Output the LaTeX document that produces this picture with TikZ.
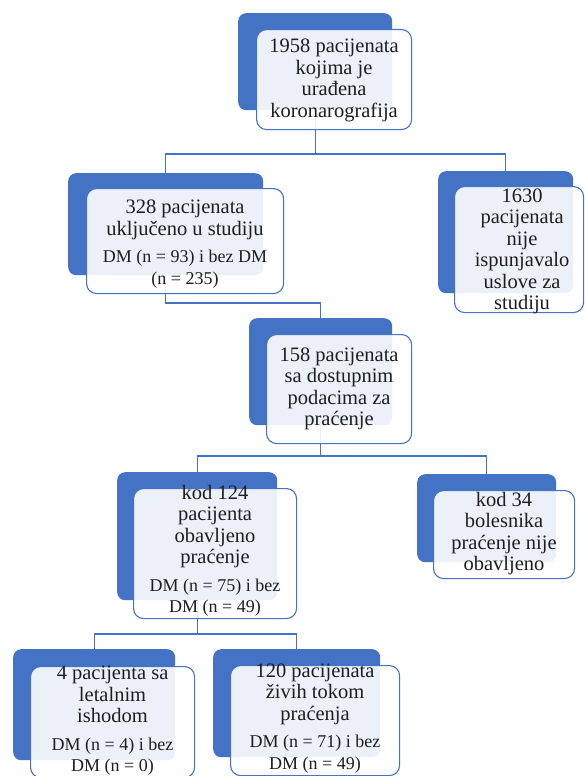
\documentclass[tikz,border=0pt]{standalone}
\usepackage{fontspec}
\setmainfont{Liberation Serif}
\definecolor{ofblue}{HTML}{4472C4}
\definecolor{txt}{HTML}{1E1E1E}
\newcommand\mainf{\fontsize{20.5}{21.5}\selectfont}
\newcommand\subf{\fontsize{18}{20}\selectfont}
\begin{document}
\begin{tikzpicture}[x=1pt,y=-1pt,
  darkbox/.style={draw=none,fill=ofblue,rounded corners=8pt,inner sep=0pt,anchor=north west},
  frontbox/.style={draw=ofblue,line width=1.1pt,fill=white,fill opacity=0.9,rounded corners=10pt,inner sep=0pt,anchor=north west},
  txtnode/.style={text=txt,align=center,font=\mainf,inner sep=0pt},
  conn/.style={draw=ofblue,line width=1.3pt}]
\useasboundingbox (0,0) rectangle (584,776);
% dark boxes
\node[darkbox,minimum width=154pt,minimum height=97pt] (d1) at (238,13) {};
\node[darkbox,minimum width=195pt,minimum height=102pt] (d2) at (68,173) {};
\node[darkbox,minimum width=135pt,minimum height=122pt] (d3) at (438,171) {};
\node[darkbox,minimum width=143pt,minimum height=107pt] (d4) at (249,318) {};
\node[darkbox,minimum width=160pt,minimum height=128pt] (d5) at (117,472) {};
\node[darkbox,minimum width=139pt,minimum height=88pt] (d6) at (417,474) {};
\node[darkbox,minimum width=162pt,minimum height=111pt] (d7) at (13,649) {};
\node[darkbox,minimum width=167pt,minimum height=108pt] (d8) at (213,649) {};
% connectors
\coordinate (j1) at (0,154);
\coordinate (j2) at (0,303);
\coordinate (j3) at (0,456);
\coordinate (j4) at (0,634);
\draw[conn] (d1.south) -- (d1.south |- j1) -| (d2.north);
\draw[conn] (d1.south |- j1) -| (d3.north);
\draw[conn] (d2.south) -- (d2.south |- j2) -| (d4.north);
\draw[conn] (d4.south) -- (d4.south |- j3) -| (d5.north);
\draw[conn] (d4.south |- j3) -| (d6.north);
\draw[conn] (d5.south) -- (d5.south |- j4) -| (d7.north);
\draw[conn] (d5.south |- j4) -| (d8.north);
% front boxes
\node[frontbox,minimum width=155pt,minimum height=100pt] (f1) at (256,29) {};
\node[frontbox,minimum width=197pt,minimum height=105pt] (f2) at (86,188) {};
\node[frontbox,minimum width=129pt,minimum height=126pt] (f3) at (454,186) {};
\node[frontbox,minimum width=145pt,minimum height=109pt] (f4) at (266,334) {};
\node[frontbox,minimum width=163pt,minimum height=130pt] (f5) at (133,488) {};
\node[frontbox,minimum width=141pt,minimum height=88pt] (f6) at (433,490) {};
\node[frontbox,minimum width=164pt,minimum height=111pt] (f7) at (30,666) {};
\node[frontbox,minimum width=169pt,minimum height=110pt] (f8) at (230,665) {};
% texts
\node[txtnode] (t1) at ([yshift=-1pt]f1.center) {1958 pacijenata\\kojima je\\urađena\\koronarografija};
\node[txtnode] (t2) at ([yshift=-3pt]f2.center) {328 pacijenata\\uključeno u studiju\\[6pt]\subf DM (n = 93) i bez DM\\\subf (n = 235)};
\node[txtnode] (t3) at ([xshift=3pt,yshift=-2pt]f3.center) {1630\\pacijenata\\nije\\ispunjavalo\\uslove za\\studiju};
\node[txtnode] (t4) at (f4.center) {158 pacijenata\\sa dostupnim\\podacima za\\praćenje};
\node[txtnode] (t5) at ([yshift=3pt]f5.center) {kod 124\\pacijenta\\obavljeno\\praćenje\\[6pt]\subf DM (n = 75) i bez\\\subf DM (n = 49)};
\node[txtnode] (t6) at ([yshift=1pt]f6.center) {kod 34\\bolesnika\\praćenje nije\\obavljeno};
\node[txtnode] (t7) at ([yshift=1pt]f7.center) {4 pacijenta sa\\letalnim\\ishodom\\[6pt]\subf DM (n = 4) i bez\\\subf DM (n = 0)};
\node[txtnode] (t8) at ([yshift=2pt]f8.center) {120 pacijenata\\živih tokom\\praćenja\\[6pt]\subf DM (n = 71) i bez\\\subf DM (n = 49)};
\end{tikzpicture}
\end{document}
